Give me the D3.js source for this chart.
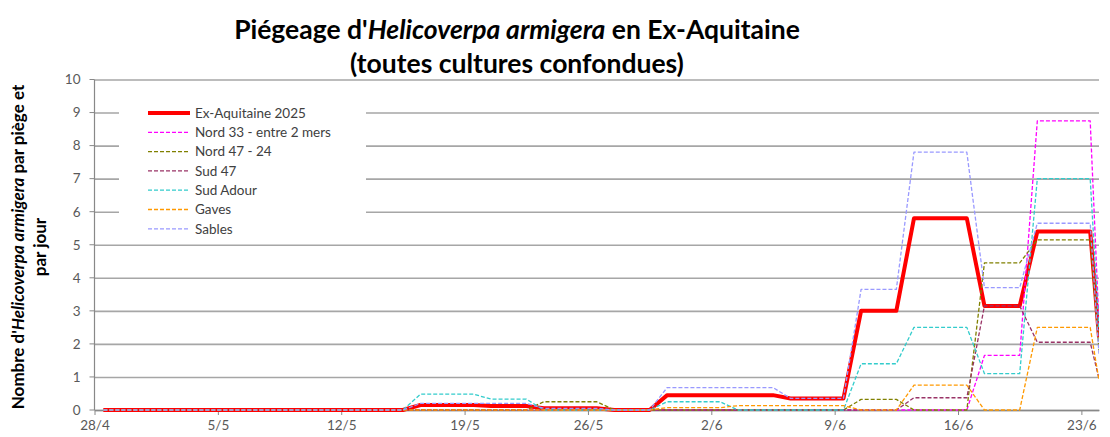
<!DOCTYPE html>
<html>
<head>
<meta charset="utf-8">
<script src="https://cdn.jsdelivr.net/npm/d3@7"></script>
<style>
  body { margin: 0; background: #fff; }
  svg { display: block; font-family: Lato, "Open Sans", sans-serif; }
</style>
</head>
<body>
<div id="chart"></div>
<script>
// séries : sommets [date, valeur]
const seriesNames = ["Ex-Aquitaine 2025", "Nord 33 - entre 2 mers", "Nord 47 - 24", "Sud 47", "Sud Adour", "Gaves", "Sables"];
const seriesColors = ["#ff0000", "#ff00ff", "#808000", "#993366", "#33cccc", "#ff9900", "#9999ff"];

const exAquitaine = [["28/4",0],["15/5",0],["16/5",0.15],["19/5",0.15],["20/5",0.12],["22/5",0.12],["23/5",0.05],["26/5",0.05],["27/5",0],["29/5",0],["30/5",0.45],["5/6",0.45],["6/6",0.35],["9/6",0.35],["10/6",3.0],["12/6",3.0],["13/6",5.8],["16/6",5.8],["17/6",3.15],["19/6",3.15],["20/6",5.4],["23/6",5.4],["24/6",2.2]];
const nord33 = [["28/4",0],["16/6",0],["17/6",1.65],["19/6",1.65],["20/6",8.75],["23/6",8.75],["24/6",2.6]];
const nord4724 = [["28/4",0],["22/5",0],["23/5",0.25],["26/5",0.25],["27/5",0],["9/6",0],["10/6",0.32],["12/6",0.32],["13/6",0],["16/6",0],["17/6",4.45],["19/6",4.45],["20/6",5.15],["23/6",5.15],["24/6",1.8]];
const sud47 = [["28/4",0],["12/6",0],["13/6",0.37],["16/6",0.37],["17/6",3.15],["19/6",3.15],["20/6",2.05],["23/6",2.05],["24/6",0.95]];
const sudAdour = [["28/4",0],["15/5",0],["16/5",0.48],["19/5",0.48],["20/5",0.33],["22/5",0.33],["23/5",0],["29/5",0],["30/5",0.25],["2/6",0.25],["3/6",0],["9/6",0],["10/6",1.4],["12/6",1.4],["13/6",2.5],["16/6",2.5],["17/6",1.1],["19/6",1.1],["20/6",7.0],["23/6",7.0],["24/6",2.4]];
const gaves = [["28/4",0],["29/5",0],["30/5",0.07],["2/6",0.07],["3/6",0.13],["9/6",0.13],["10/6",0],["12/6",0],["13/6",0.75],["16/6",0.75],["17/6",0],["19/6",0],["20/6",2.5],["23/6",2.5],["24/6",0.9]];
const sables = [["28/4",0],["15/5",0],["16/5",0.2],["22/5",0.2],["23/5",0.05],["26/5",0.05],["27/5",0],["29/5",0],["30/5",0.68],["5/6",0.68],["6/6",0.35],["9/6",0.35],["10/6",3.65],["12/6",3.65],["13/6",7.8],["16/6",7.8],["17/6",3.7],["19/6",3.7],["20/6",5.65],["23/6",5.65],["24/6",1.7]];
const seriesValues = [exAquitaine, nord33, nord4724, sud47, sudAdour, gaves, sables];

const xTickLabels = ["28/4", "5/5", "12/5", "19/5", "26/5", "2/6", "9/6", "16/6", "23/6"];
const yTicks = [0, 1, 2, 3, 4, 5, 6, 7, 8, 9, 10];

const parseDay = s => d3.timeParse("%d/%m/%Y")(s + "/2025");

const svg_width = 1110, svg_height = 437;
const margin = { top: 79.5, right: 11, bottom: 27, left: 94.5 };

const svg = d3.select("#chart").append("svg")
  .attr("width", svg_width).attr("height", svg_height);

const xStart = parseDay("28/4"), xEnd = parseDay("24/6");
const xScale = d3.scaleTime().domain([xStart, xEnd]).range([margin.left, svg_width - margin.right]);
const yScale = d3.scaleLinear().domain([0, 10]).range([svg_height - margin.bottom, margin.top]);

// titre
const title = svg.append("text").attr("text-anchor", "middle")
  .style("font-weight", "bold").style("font-size", "26.5px").style("fill", "#000");
title.append("tspan").attr("x", 517).attr("y", 39).text("Piégeage d'");
title.append("tspan").style("font-style", "italic").text("Helicoverpa armigera");
title.append("tspan").text(" en Ex-Aquitaine");
svg.append("text").attr("text-anchor", "middle").attr("x", 517).attr("y", 73)
  .style("font-weight", "bold").style("font-size", "26.5px").text("(toutes cultures confondues)");

// titre axe Y
const yTitle = svg.append("g").attr("transform", "translate(0,247) rotate(-90)")
  .style("font-weight", "bold").style("font-size", "17px");
const yt1 = yTitle.append("text").attr("text-anchor", "middle").attr("x", 0).attr("y", 24);
yt1.append("tspan").text("Nombre d'");
yt1.append("tspan").style("font-style", "italic").text("Helicoverpa armigera");
yt1.append("tspan").text(" par piège et");
yTitle.append("text").attr("text-anchor", "middle").attr("x", 0).attr("y", 46).text("par jour");

// grille
const yAxis = d3.axisLeft(yScale).tickValues(yTicks).tickSizeInner(-(svg_width - margin.right - margin.left)).tickSizeOuter(0).tickPadding(14);
const yAxisDraw = svg.append("g").attr("transform", `translate(${margin.left},0)`).call(yAxis);
yAxisDraw.select(".domain").remove();
yAxisDraw.selectAll("line").attr("stroke", "#a6a6a6").attr("stroke-width", 1.6);
yAxisDraw.selectAll("text").style("font-size", "13.5px").style("fill", "#595959").style("font-family", "Lato, sans-serif");
// petites marques à gauche
svg.append("g").selectAll("line").data(yTicks).enter().append("line")
  .attr("x1", margin.left - 5).attr("x2", margin.left)
  .attr("y1", d => yScale(d)).attr("y2", d => yScale(d))
  .attr("stroke", "#888").attr("stroke-width", 1);
svg.append("line").attr("x1", margin.left).attr("x2", margin.left)
  .attr("y1", yScale(10)).attr("y2", yScale(0)).attr("stroke", "#888").attr("stroke-width", 1.2);

// légende (fond blanc)
const legend = svg.append("g").attr("transform", "translate(119,96)");
legend.append("rect").attr("width", 247).attr("height", 144).attr("fill", "#fff");

// axe X
const xAxis = d3.axisBottom(xScale).tickValues(xTickLabels.map(parseDay))
  .tickFormat(d3.timeFormat("%-d/%-m")).tickSizeInner(5).tickSizeOuter(0).tickPadding(5);
const xAxisDraw = svg.append("g").attr("transform", `translate(0,${yScale(0)})`).call(xAxis);
xAxisDraw.select(".domain").attr("stroke", "#888").attr("stroke-width", 1.6);
xAxisDraw.selectAll("line").attr("stroke", "#888");
xAxisDraw.selectAll("text").style("font-size", "13.5px").style("fill", "#595959").style("font-family", "Lato, sans-serif");

// courbes
svg.append("clipPath").attr("id", "plot").append("rect")
  .attr("x", margin.left).attr("y", 0).attr("width", svg_width - margin.right - margin.left).attr("height", svg_height);
const noon = 12 * 3600 * 1000;
const line = d3.line()
  .x(d => xScale(new Date(Math.min(+parseDay(d[0]) + noon, +xEnd))))
  .y(d => yScale(d[1]));
svg.append("g").attr("clip-path", "url(#plot)").selectAll("path")
  .data(seriesValues).enter().append("path")
  .attr("d", line)
  .attr("fill", "none")
  .attr("stroke", (d, i) => seriesColors[i])
  .attr("stroke-width", (d, i) => i === 0 ? 4 : 1.3)
  .attr("stroke-dasharray", (d, i) => i === 0 ? null : "4,2")
  .attr("stroke-linejoin", "round");

// entrées de légende
const rows = legend.selectAll(".row").data(seriesNames).enter().append("g")
  .attr("transform", (d, i) => `translate(0,${17 + i * 19.3})`);
rows.append("line").attr("x1", 29).attr("x2", 71).attr("y1", 0).attr("y2", 0)
  .attr("stroke", (d, i) => seriesColors[i])
  .attr("stroke-width", (d, i) => i === 0 ? 4 : 1.3)
  .attr("stroke-dasharray", (d, i) => i === 0 ? null : "4,2");
rows.append("text").attr("x", 76).attr("y", 0).attr("dy", "0.35em")
  .style("font-size", "13.5px").style("fill", "#404040").text(d => d);
</script>
</body>
</html>
